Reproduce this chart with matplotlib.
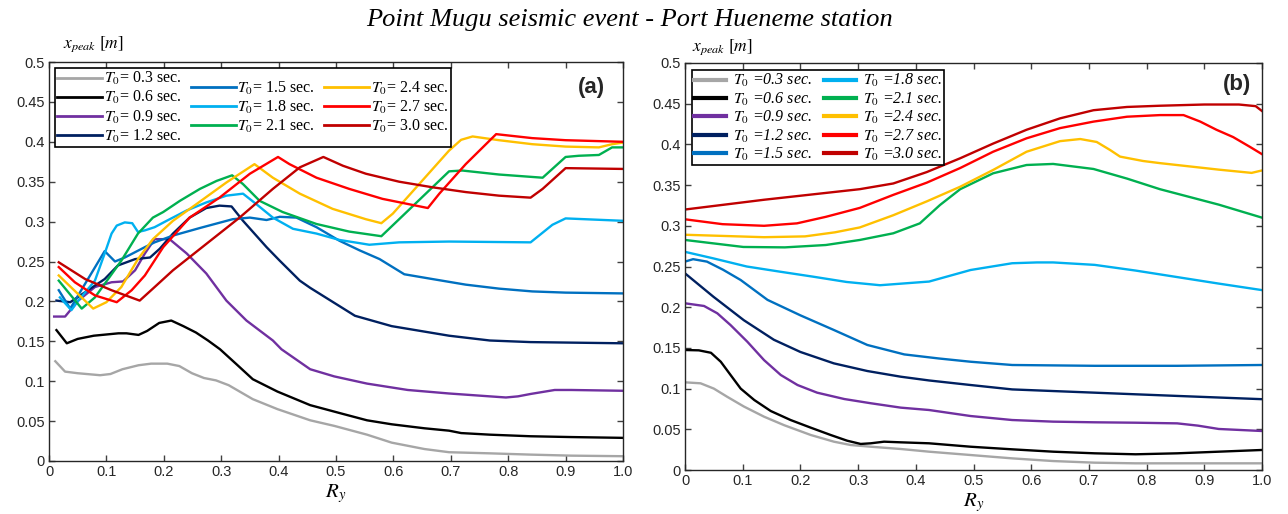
import matplotlib
matplotlib.use("Agg")
import matplotlib.pyplot as plt
from matplotlib.lines import Line2D

plt.rcParams['mathtext.fontset'] = 'stix'
plt.rcParams['font.family'] = ['Liberation Sans', 'DejaVu Sans']

periods = ['0.3', '0.6', '0.9', '1.2', '1.5', '1.8', '2.1', '2.4', '2.7', '3.0']
colors = ['#a6a6a6', '#000000', '#7030a0', '#002060', '#0070c0',
          '#00b0f0', '#00b050', '#ffc000', '#ff0000', '#c00000']

# ---- panel (a) data: (Ry, x_peak) ----
a_t03_x = [0.011, 0.028, 0.05, 0.089, 0.107, 0.128, 0.156, 0.178, 0.206, 0.227, 0.249, 0.27, 0.291,
           0.313, 0.355, 0.398, 0.455, 0.497, 0.554, 0.597, 0.654, 0.697, 0.768, 0.839, 0.91, 1.0]
a_t03_y = [0.125, 0.112, 0.110, 0.1075, 0.109, 0.115, 0.120, 0.122, 0.122, 0.119, 0.110, 0.104, 0.101,
           0.095, 0.0775, 0.065, 0.051, 0.044, 0.033, 0.023, 0.015, 0.011, 0.0096, 0.008, 0.0067, 0.006]

a_t06_x = [0.013, 0.031, 0.05, 0.078, 0.121, 0.135, 0.156, 0.171, 0.192, 0.213, 0.234, 0.256, 0.277,
           0.298, 0.327, 0.355, 0.398, 0.455, 0.512, 0.554, 0.597, 0.654, 0.697, 0.718, 0.768, 0.839,
           0.91, 1.0]
a_t06_y = [0.164, 0.1475, 0.153, 0.157, 0.160, 0.160, 0.158, 0.163, 0.173, 0.176, 0.169, 0.161, 0.151,
           0.140, 0.121, 0.1025, 0.087, 0.070, 0.059, 0.051, 0.046, 0.041, 0.038, 0.035, 0.033, 0.031,
           0.030, 0.029]

a_t09_x = [0.009, 0.028, 0.051, 0.08, 0.109, 0.129, 0.15, 0.167, 0.184, 0.21, 0.24, 0.274, 0.309,
           0.344, 0.39, 0.405, 0.455, 0.497, 0.554, 0.625, 0.697, 0.768, 0.796, 0.817, 0.839, 0.881,
           0.91, 1.0]
a_t09_y = [0.181, 0.181, 0.201, 0.218, 0.224, 0.225, 0.239, 0.26, 0.278, 0.278, 0.26, 0.235, 0.201,
           0.176, 0.151, 0.14, 0.115, 0.106, 0.097, 0.089, 0.0846, 0.081, 0.0796, 0.081, 0.084, 0.089,
           0.089, 0.088]

a_t12_x = [0.013, 0.037, 0.068, 0.097, 0.12, 0.15, 0.176, 0.193, 0.216, 0.245, 0.274, 0.297, 0.318,
           0.338, 0.379, 0.402, 0.437, 0.455, 0.533, 0.597, 0.697, 0.768, 0.839, 1.0]
a_t12_y = [0.201, 0.199, 0.214, 0.228, 0.245, 0.253, 0.255, 0.266, 0.285, 0.305, 0.317, 0.320, 0.319,
           0.301, 0.268, 0.251, 0.226, 0.217, 0.182, 0.169, 0.157, 0.151, 0.149, 0.1475]

a_t15_x = [0.017, 0.037, 0.097, 0.115, 0.132, 0.167, 0.184, 0.216, 0.263, 0.32, 0.35, 0.379, 0.402,
           0.431, 0.466, 0.506, 0.541, 0.576, 0.619, 0.668, 0.726, 0.784, 0.842, 0.90, 1.0]
a_t15_y = [0.214, 0.191, 0.263, 0.25, 0.255, 0.268, 0.274, 0.2825, 0.292, 0.303, 0.305, 0.302, 0.306,
           0.305, 0.293, 0.276, 0.264, 0.253, 0.234, 0.228, 0.221, 0.216, 0.2125, 0.211, 0.21]

a_t18_x = [0.019, 0.039, 0.051, 0.08, 0.097, 0.109, 0.118, 0.132, 0.145, 0.155, 0.167, 0.184, 0.205,
           0.24, 0.274, 0.309, 0.338, 0.361, 0.39, 0.425, 0.466, 0.506, 0.541, 0.558, 0.61, 0.697,
           0.839, 0.877, 0.90, 1.0]
a_t18_y = [0.205, 0.189, 0.201, 0.226, 0.26, 0.285, 0.295, 0.299, 0.298, 0.287, 0.289, 0.293, 0.301,
           0.314, 0.324, 0.3325, 0.335, 0.322, 0.305, 0.291, 0.285, 0.277, 0.273, 0.271, 0.274, 0.275,
           0.274, 0.296, 0.304, 0.301]

a_t21_x = [0.017, 0.057, 0.08, 0.126, 0.155, 0.181, 0.199, 0.228, 0.263, 0.292, 0.319, 0.338, 0.367,
           0.407, 0.466, 0.523, 0.579, 0.61, 0.697, 0.72, 0.784, 0.86, 0.90, 0.923, 0.958, 0.981, 1.0]
a_t21_y = [0.226, 0.191, 0.205, 0.251, 0.285, 0.305, 0.312, 0.326, 0.341, 0.351, 0.358, 0.347, 0.326,
           0.312, 0.297, 0.2875, 0.2817, 0.303, 0.363, 0.364, 0.359, 0.355, 0.381, 0.3825, 0.3835,
           0.393, 0.393]

a_t24_x = [0.017, 0.077, 0.10, 0.126, 0.155, 0.181, 0.216, 0.257, 0.309, 0.358, 0.39, 0.437, 0.494,
           0.552, 0.579, 0.599, 0.697, 0.718, 0.738, 0.784, 0.842, 0.90, 0.958, 0.981, 1.0]
a_t24_y = [0.2325, 0.191, 0.199, 0.218, 0.253, 0.278, 0.301, 0.322, 0.349, 0.372, 0.355, 0.335, 0.316,
           0.303, 0.298, 0.31, 0.389, 0.4025, 0.4067, 0.402, 0.397, 0.394, 0.393, 0.397, 0.399]

a_t27_x = [0.017, 0.045, 0.08, 0.118, 0.144, 0.167, 0.199, 0.245, 0.297, 0.35, 0.399, 0.419, 0.466,
           0.523, 0.581, 0.66, 0.68, 0.726, 0.779, 0.842, 0.90, 1.0]
a_t27_y = [0.243, 0.224, 0.2075, 0.199, 0.214, 0.2325, 0.268, 0.305, 0.330, 0.36, 0.381, 0.372, 0.355,
           0.341, 0.3285, 0.317, 0.335, 0.372, 0.4096, 0.4046, 0.402, 0.40]

a_t30_x = [0.017, 0.063, 0.109, 0.158, 0.181, 0.216, 0.274, 0.332, 0.39, 0.437, 0.478, 0.512, 0.552,
           0.61, 0.668, 0.726, 0.784, 0.839, 0.86, 0.90, 1.0]
a_t30_y = [0.249, 0.228, 0.214, 0.201, 0.216, 0.239, 0.272, 0.305, 0.341, 0.368, 0.381, 0.37, 0.36,
           0.35, 0.343, 0.337, 0.3325, 0.330, 0.341, 0.367, 0.366]

# ---- panel (b) data ----
b_t03_x = [0.0, 0.027, 0.05, 0.073, 0.102, 0.137, 0.172, 0.218, 0.258, 0.287, 0.322, 0.374, 0.423,
           0.495, 0.567, 0.638, 0.71, 0.781, 0.9, 1.0]
b_t03_y = [0.1077, 0.1065, 0.100, 0.090, 0.078, 0.0655, 0.055, 0.043, 0.0348, 0.0307, 0.0286, 0.0258,
           0.0225, 0.0184, 0.0143, 0.011, 0.009, 0.0082, 0.0082, 0.0082]

b_t06_x = [0.0, 0.024, 0.045, 0.062, 0.079, 0.0965, 0.12, 0.1485, 0.183, 0.218, 0.2525, 0.281, 0.3045,
           0.322, 0.345, 0.374, 0.423, 0.495, 0.567, 0.638, 0.71, 0.781, 0.853, 0.925, 1.0]
b_t06_y = [0.1474, 0.147, 0.144, 0.133, 0.1167, 0.100, 0.086, 0.0725, 0.0614, 0.052, 0.043, 0.036, 0.032,
           0.0328, 0.0348, 0.034, 0.0328, 0.0286, 0.0254, 0.0225, 0.0205, 0.0193, 0.0205, 0.0225, 0.0246]

b_t09_x = [0.0, 0.033, 0.056, 0.079, 0.108, 0.137, 0.166, 0.195, 0.229, 0.276, 0.322, 0.374, 0.423,
           0.495, 0.567, 0.638, 0.71, 0.781, 0.853, 0.889, 0.925, 1.0]
b_t09_y = [0.2048, 0.2015, 0.1925, 0.178, 0.1576, 0.135, 0.1167, 0.1044, 0.095, 0.0872, 0.082, 0.0766,
           0.0737, 0.0663, 0.0614, 0.0594, 0.0586, 0.0581, 0.0573, 0.0545, 0.0504, 0.0479]

b_t12_x = [0.0, 0.049, 0.102, 0.154, 0.2, 0.258, 0.316, 0.374, 0.423, 0.495, 0.567, 0.638, 0.71,
           0.781, 0.853, 1.0]
b_t12_y = [0.2416, 0.213, 0.184, 0.160, 0.145, 0.131, 0.1216, 0.1146, 0.110, 0.1044, 0.099, 0.097,
           0.095, 0.093, 0.091, 0.087]

b_t15_x = [0.0, 0.014, 0.038, 0.066, 0.0965, 0.143, 0.2, 0.258, 0.316, 0.38, 0.44, 0.495, 0.567,
           0.71, 0.853, 1.0]
b_t15_y = [0.256, 0.259, 0.256, 0.246, 0.2334, 0.209, 0.19, 0.172, 0.1536, 0.142, 0.137, 0.133, 0.129,
           0.128, 0.128, 0.129]

b_t18_x = [0.0, 0.049, 0.107, 0.165, 0.222, 0.28, 0.338, 0.423, 0.495, 0.567, 0.61, 0.638, 0.71,
           0.781, 0.853, 0.925, 1.0]
b_t18_y = [0.268, 0.26, 0.25, 0.2436, 0.2375, 0.231, 0.227, 0.2315, 0.2457, 0.254, 0.255, 0.255, 0.252,
           0.245, 0.237, 0.229, 0.221]

b_t21_x = [0.0, 0.101, 0.173, 0.244, 0.303, 0.361, 0.407, 0.442, 0.477, 0.534, 0.592, 0.638, 0.708,
           0.766, 0.823, 0.925, 1.0]
b_t21_y = [0.2826, 0.274, 0.2735, 0.2764, 0.2826, 0.2908, 0.303, 0.3256, 0.345, 0.3645, 0.3747, 0.376,
           0.3698, 0.358, 0.345, 0.326, 0.310]

b_t24_x = [0.0, 0.137, 0.208, 0.26, 0.303, 0.361, 0.419, 0.477, 0.534, 0.592, 0.65, 0.685, 0.7135,
           0.737, 0.754, 0.794, 0.823, 0.925, 0.982, 1.0]
b_t24_y = [0.289, 0.286, 0.287, 0.292, 0.298, 0.313, 0.33, 0.348, 0.3686, 0.391, 0.404, 0.4066, 0.403,
           0.393, 0.385, 0.3796, 0.377, 0.369, 0.365, 0.368]

b_t27_x = [0.0, 0.065, 0.137, 0.194, 0.244, 0.303, 0.361, 0.419, 0.477, 0.534, 0.592, 0.65, 0.708,
           0.766, 0.823, 0.864, 0.893, 0.921, 0.95, 0.979, 1.0]
b_t27_y = [0.308, 0.302, 0.300, 0.303, 0.311, 0.322, 0.338, 0.353, 0.371, 0.391, 0.4075, 0.42, 0.428,
           0.434, 0.436, 0.436, 0.428, 0.418, 0.409, 0.397, 0.388]

b_t30_x = [0.0, 0.137, 0.303, 0.361, 0.419, 0.477, 0.534, 0.592, 0.65, 0.708, 0.766, 0.823, 0.9,
           0.96, 0.989, 1.0]
b_t30_y = [0.320, 0.332, 0.345, 0.352, 0.366, 0.383, 0.401, 0.418, 0.432, 0.442, 0.446, 0.4475, 0.449,
           0.449, 0.447, 0.441]

panel_a = [(a_t03_x, a_t03_y), (a_t06_x, a_t06_y), (a_t09_x, a_t09_y), (a_t12_x, a_t12_y),
           (a_t15_x, a_t15_y), (a_t18_x, a_t18_y), (a_t21_x, a_t21_y), (a_t24_x, a_t24_y),
           (a_t27_x, a_t27_y), (a_t30_x, a_t30_y)]
panel_b = [(b_t03_x, b_t03_y), (b_t06_x, b_t06_y), (b_t09_x, b_t09_y), (b_t12_x, b_t12_y),
           (b_t15_x, b_t15_y), (b_t18_x, b_t18_y), (b_t21_x, b_t21_y), (b_t24_x, b_t24_y),
           (b_t27_x, b_t27_y), (b_t30_x, b_t30_y)]

xticks = [0, 0.1, 0.2, 0.3, 0.4, 0.5, 0.6, 0.7, 0.8, 0.9, 1.0]
xtick_labels = ['0', '0.1', '0.2', '0.3', '0.4', '0.5', '0.6', '0.7', '0.8', '0.9', '1.0']
yticks = [0, 0.05, 0.1, 0.15, 0.2, 0.25, 0.3, 0.35, 0.4, 0.45, 0.5]
ytick_labels = ['0', '0.05', '0.1', '0.15', '0.2', '0.25', '0.3', '0.35', '0.4', '0.45', '0.5']

fig = plt.figure(figsize=(12.88, 5.14), dpi=100)
ax1 = fig.add_axes([49 / 1288, 1 - 461 / 514, 574 / 1288, 399 / 514])
ax2 = fig.add_axes([685 / 1288, 1 - 470 / 514, 577 / 1288, 407 / 514])

fig.text(630 / 1288, 1 - 20 / 514, 'Point Mugu seismic event - Port Hueneme station',
         ha='center', va='center', family='Liberation Serif', style='italic', fontsize=19)


def style_axes(ax):
    ax.set_xlim(0, 1)
    ax.set_ylim(0, 0.5)
    ax.set_xticks(xticks)
    ax.set_xticklabels(xtick_labels)
    ax.set_yticks(yticks)
    ax.set_yticklabels(ytick_labels)
    ax.tick_params(direction='in', top=True, right=True, length=4, width=1,
                   labelsize=10.5, labelcolor='#262626', color='#404040', pad=3)
    for s in ax.spines.values():
        s.set_color('#262626')
        s.set_linewidth(1.0)
    ax.set_xlabel('$R_y$', fontsize=15, labelpad=2)


for ax, data in [(ax1, panel_a), (ax2, panel_b)]:
    for (xs, ys), c in zip(data, colors):
        ax.plot(xs, ys, color=c, lw=1.7, solid_joinstyle='round')
    style_axes(ax)

ax1.text(0.024, 1.045, '$x_{peak}\\ [m]$', transform=ax1.transAxes, fontsize=12.5, va='center')
ax2.text(0.012, 1.04, '$x_{peak}\\ [m]$', transform=ax2.transAxes, fontsize=12.5, va='center')

ax1.text(0.969, 0.937, '(a)', transform=ax1.transAxes, ha='right', va='center',
         fontsize=16, fontweight='bold', color='#262626')
ax2.text(0.981, 0.946, '(b)', transform=ax2.transAxes, ha='right', va='center',
         fontsize=16, fontweight='bold', color='#262626')

# legend (a): upright serif, three columns
handles_a = [Line2D([], [], color=c, lw=2) for c in colors]
labels_a = ['$T_0$= ' + p + ' sec.' for p in periods]
leg1 = ax1.legend(handles_a, labels_a, ncol=3, loc='upper left', bbox_to_anchor=(0.0105, 0.985),
                  borderaxespad=0, prop={'family': 'Liberation Serif', 'size': 11.5},
                  handlelength=2.8, handletextpad=0.1, columnspacing=0.6, labelspacing=0.12,
                  borderpad=0.15, fancybox=False, framealpha=1, edgecolor='black')
leg1.get_frame().set_linewidth(1.2)
leg1._legend_handle_box.align = 'center'

# legend (b): italic serif, two columns
handles_b = [Line2D([], [], color=c, lw=3) for c in colors]
labels_b = ['$T_0$ =' + p + ' sec.' for p in periods]
leg2 = ax2.legend(handles_b, labels_b, ncol=2, loc='upper left', bbox_to_anchor=(0.012, 0.983),
                  borderaxespad=0, prop={'family': 'Liberation Serif', 'style': 'italic', 'size': 11.5},
                  handlelength=2.0, handletextpad=0.4, columnspacing=0.8, labelspacing=0.08,
                  borderpad=0.15, fancybox=False, framealpha=1, edgecolor='black')
leg2.get_frame().set_linewidth(1.2)

fig.savefig('out.png', dpi=100)
